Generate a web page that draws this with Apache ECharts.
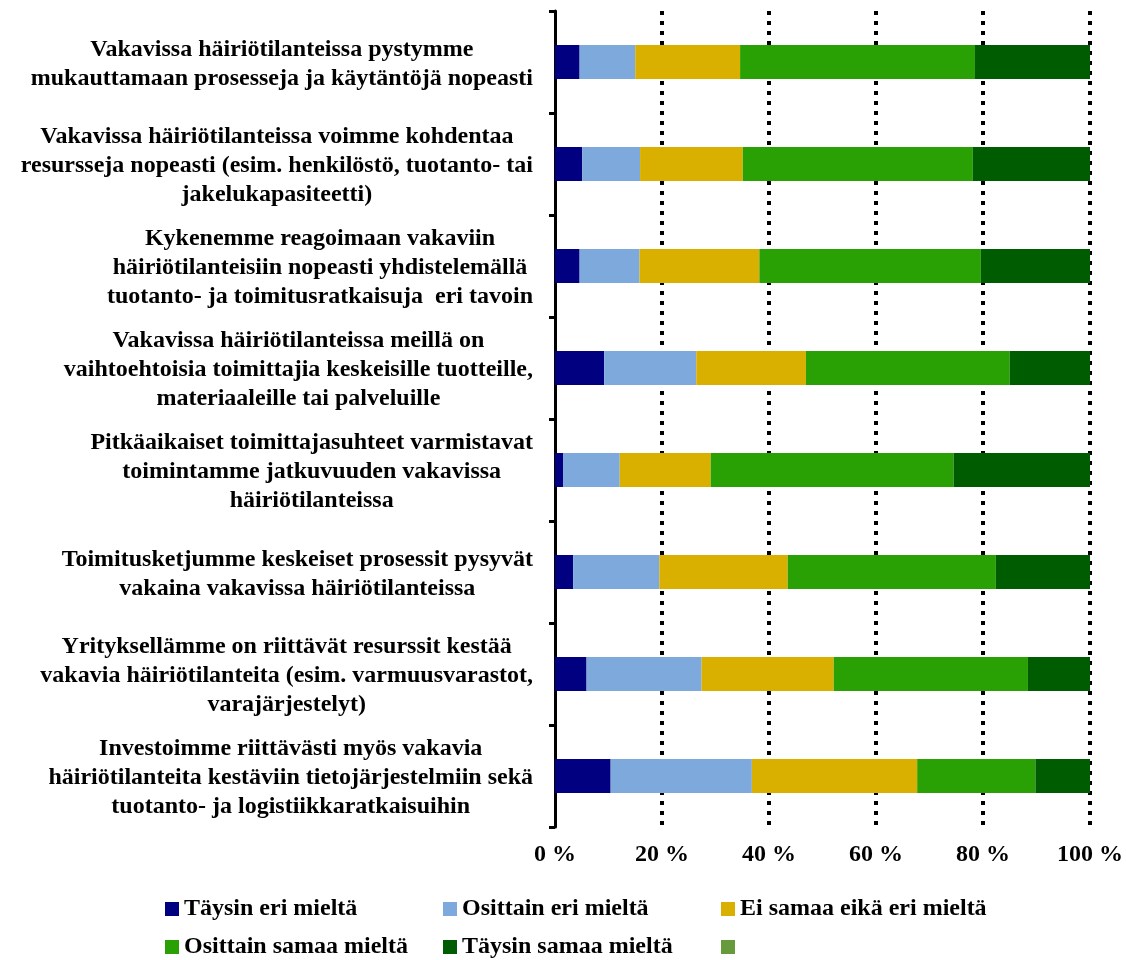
<!DOCTYPE html>
<html>
<head>
<meta charset="utf-8">
<script src="https://cdn.jsdelivr.net/npm/echarts@6/dist/echarts.min.js"></script>
<style>
  html, body { margin: 0; padding: 0; background: #fff; }
  #chart-container { width: 1126px; height: 960px; }
</style>
</head>
<body>
<div id="chart-container"></div>
<script>
var categories = [
  'Vakavissa häiriötilanteissa pystymme\nmukauttamaan prosesseja ja käytäntöjä nopeasti',
  'Vakavissa häiriötilanteissa voimme kohdentaa\nresursseja nopeasti (esim. henkilöstö, tuotanto- tai\njakelukapasiteetti)',
  'Kykenemme reagoimaan vakaviin\nhäiriötilanteisiin nopeasti yhdistelemällä\ntuotanto- ja toimitusratkaisuja  eri tavoin',
  'Vakavissa häiriötilanteissa meillä on\nvaihtoehtoisia toimittajia keskeisille tuotteille,\nmateriaaleille tai palveluille',
  'Pitkäaikaiset toimittajasuhteet varmistavat\ntoimintamme jatkuvuuden vakavissa\nhäiriötilanteissa',
  'Toimitusketjumme keskeiset prosessit pysyvät\nvakaina vakavissa häiriötilanteissa',
  'Yrityksellämme on riittävät resurssit kestää\nvakavia häiriötilanteita (esim. varmuusvarastot,\nvarajärjestelyt)',
  'Investoimme riittävästi myös vakavia\nhäiriötilanteita kestäviin tietojärjestelmiin sekä\ntuotanto- ja logistiikkaratkaisuihin'
];

var seriesNames = [
  'Täysin eri mieltä',
  'Osittain eri mieltä',
  'Ei samaa eikä eri mieltä',
  'Osittain samaa mieltä',
  'Täysin samaa mieltä',
  ' '
];

var taysinEri   = [4.6, 5.1, 4.6, 9.2, 1.5, 3.4, 5.9, 10.4];
var osittainEri = [10.4, 10.8, 11.2, 17.2, 10.6, 16.1, 21.5, 26.4];
var eiSamaa     = [19.6, 19.2, 22.4, 20.5, 17.0, 24.0, 24.7, 30.9];
var osittainSam = [43.9, 43.0, 41.4, 38.1, 45.4, 38.9, 36.3, 22.1];
var taysinSam   = [21.5, 21.9, 20.4, 15.0, 25.5, 17.6, 11.6, 10.2];
var tyhja       = [0, 0, 0, 0, 0, 0, 0, 0];

var colors = ['#000080', '#7EA9DD', '#D9B000', '#29A004', '#005C00', '#669A3C'];

var xTicks = [0, 20, 40, 60, 80, 100];

var font = '"Liberation Serif", "Times New Roman", serif';

var dom = document.getElementById('chart-container');
var myChart = echarts.init(dom, null, { renderer: 'canvas' });

var values = [taysinEri, osittainEri, eiSamaa, osittainSam, taysinSam, tyhja];

var series = seriesNames.map(function (name, i) {
  return {
    name: name,
    type: 'bar',
    stack: 'total',
    barWidth: 34,
    itemStyle: { color: colors[i] },
    data: values[i]
  };
});

function legendCol(names, left) {
  return {
    orient: 'vertical',
    left: left,
    top: 897,
    padding: 0,
    itemWidth: 14,
    itemHeight: 14,
    itemGap: 14,
    icon: 'rect',
    data: names,
    textStyle: { fontFamily: font, fontSize: 24, fontWeight: 'bold', color: '#000', lineHeight: 24 }
  };
}

var option = {
  animation: false,
  color: colors,
  grid: { left: 555, right: 35, top: 11, bottom: 133 },
  legend: [
    legendCol([seriesNames[0], seriesNames[3]], 165),
    legendCol([seriesNames[1], seriesNames[4]], 443),
    legendCol([seriesNames[2], seriesNames[5]], 721)
  ],
  xAxis: {
    type: 'value',
    min: xTicks[0],
    max: xTicks[xTicks.length - 1],
    interval: 20,
    axisLine: { show: false },
    axisTick: { show: false },
    axisLabel: {
      formatter: '{value} %',
      fontFamily: font,
      fontSize: 24,
      fontWeight: 'bold',
      color: '#000',
      margin: 16
    },
    splitLine: {
      show: true,
      showMinLine: false,
      lineStyle: { color: '#000', width: 4, type: [4, 6] }
    }
  },
  yAxis: {
    type: 'category',
    inverse: true,
    data: categories,
    axisLine: { show: true, lineStyle: { color: '#000', width: 3 } },
    axisTick: { show: true, length: 6, lineStyle: { color: '#000', width: 3 } },
    axisLabel: {
      margin: 22,
      align: 'right',
      fontFamily: font,
      fontSize: 24,
      fontWeight: 'bold',
      color: '#000',
      lineHeight: 29,
      padding: [4, 0, 0, 0],
      formatter: function (v) {
        return v.split('\n').map(function (l) { return '{c|' + l + '}'; }).join('\n');
      },
      rich: {
        c: {
          align: 'center',
          fontFamily: font,
          fontSize: 24,
          fontWeight: 'bold',
          color: '#000',
          lineHeight: 29
        }
      }
    }
  },
  series: series
};

myChart.setOption(option);
window.addEventListener('resize', myChart.resize);
</script>
</body>
</html>
